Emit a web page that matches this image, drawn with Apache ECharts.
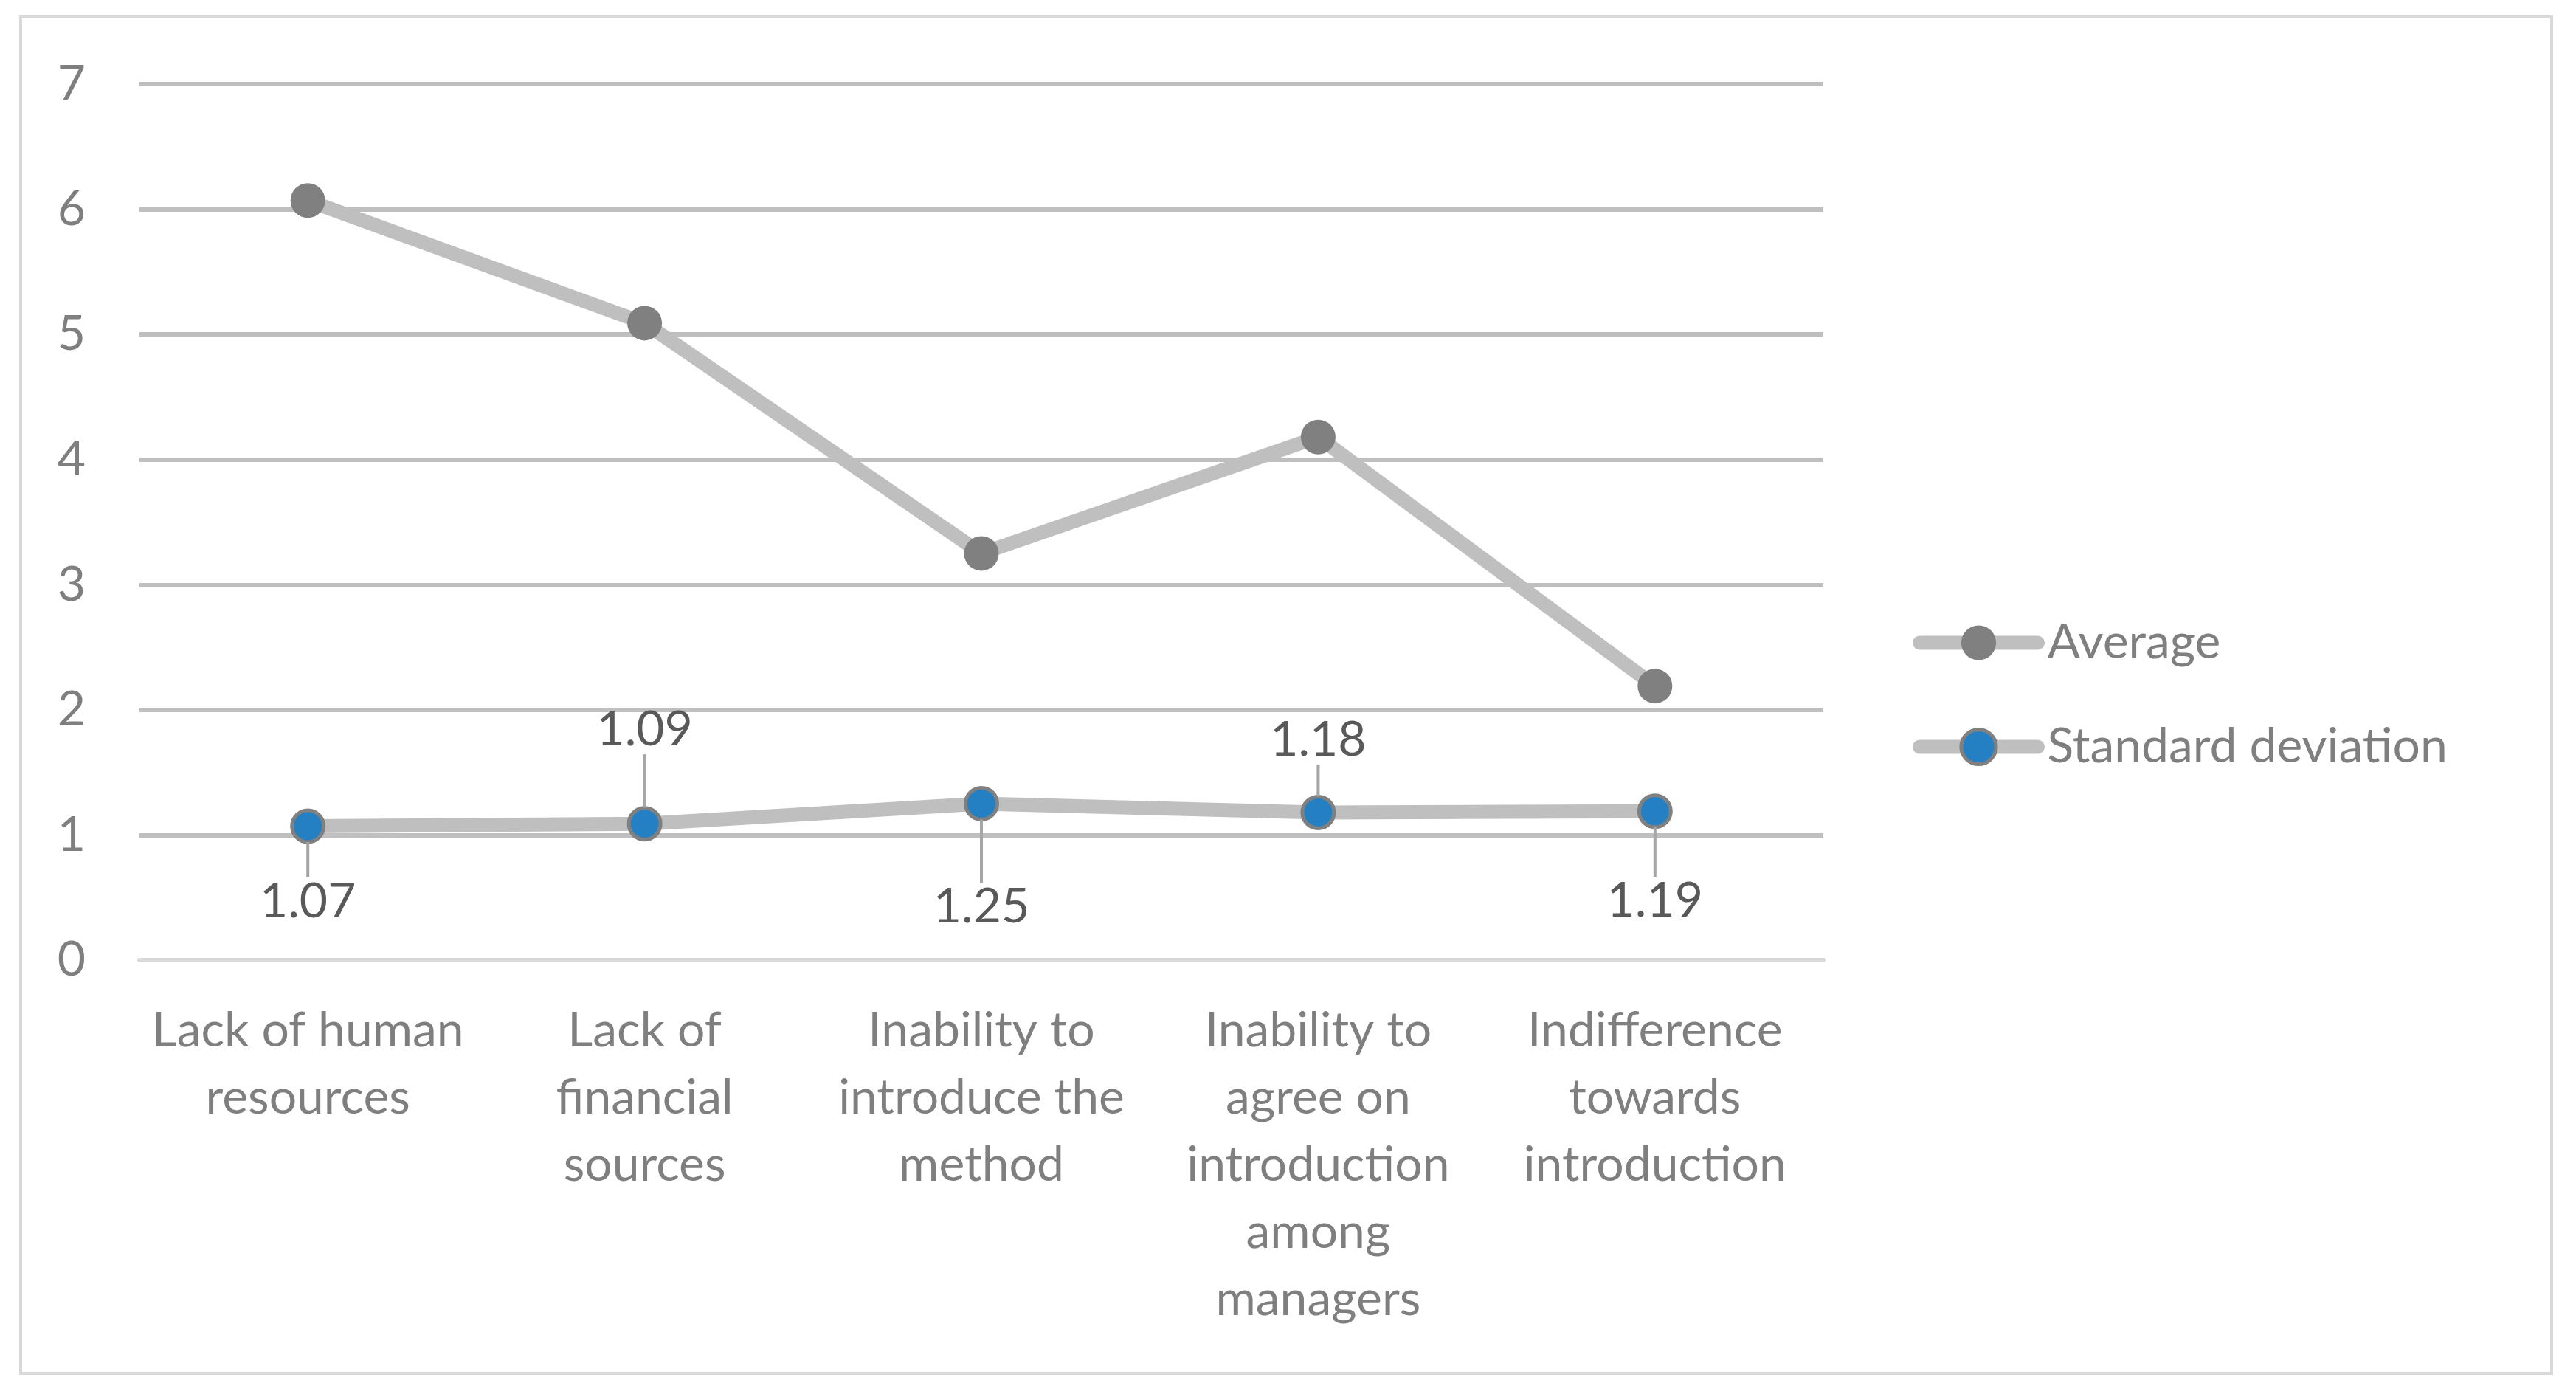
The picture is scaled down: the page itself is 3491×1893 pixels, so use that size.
<!DOCTYPE html>
<html>
<head>
<meta charset="utf-8">
<script src="https://cdn.jsdelivr.net/npm/echarts@6/dist/echarts.min.js"></script>
<style>
html,body{margin:0;padding:0;background:#fff;}
#chart{width:3491px;height:1893px;}
</style>
</head>
<body>
<div id="chart"></div>
<script>
var categories = [
  "Lack of human\nresources",
  "Lack of\nfinancial\nsources",
  "Inability to\nintroduce the\nmethod",
  "Inability to\nagree on\nintroduction\namong\nmanagers",
  "Indifference\ntowards\nintroduction"
];
var averageValues = [6.07, 5.09, 3.25, 4.18, 2.19];
var sdValues = [1.07, 1.09, 1.25, 1.18, 1.19];
var yTicks = [0, 1, 2, 3, 4, 5, 6, 7];

// label placement style (offset of each data label from its point, px)
var labelShift = [102, -127, 140, -98, 122];

var FONT = "Lato, 'Open Sans', sans-serif";
var chart = echarts.init(document.getElementById('chart'));
chart.setOption({
  animation: false,
  backgroundColor: '#ffffff',
  graphic: [{
    type: 'rect',
    shape: {x: 28, y: 23, width: 3430, height: 1838},
    style: {fill: 'none', stroke: '#d9d9d9', lineWidth: 4},
    z: -10
  }],
  grid: {left: 189, right: 1020, top: 114, bottom: 592},
  legend: {
    orient: 'vertical',
    left: 2587,
    top: 833,
    itemWidth: 160,
    itemHeight: 59,
    itemGap: 75,
    lineStyle: {width: 19, cap: 'round', color: '#bfbfbf'},
    textStyle: {fontFamily: FONT, fontSize: 66, color: '#7f7f7f', lineHeight: 60, padding: [0,0,0,8]},
    data: [
      {name: 'Average', itemStyle: {borderWidth: 0}},
      {name: 'Standard deviation', itemStyle: {borderWidth: 5, borderColor: '#808080'}}
    ]
  },
  xAxis: {
    type: 'category',
    data: categories,
    boundaryGap: true,
    axisLine: {show: true, lineStyle: {color: '#d9d9d9', width: 6}},
    axisTick: {show: false},
    axisLabel: {
      interval: 0,
      margin: 50,
      fontFamily: FONT,
      fontSize: 66,
      lineHeight: 91,
      color: '#7f7f7f'
    }
  },
  yAxis: {
    type: 'value',
    min: yTicks[0],
    max: yTicks[yTicks.length - 1],
    interval: 1,
    axisLine: {show: false},
    axisTick: {show: false},
    splitLine: {lineStyle: {color: '#bfbfbf', width: 6}},
    axisLabel: {
      margin: 73,
      fontFamily: FONT,
      fontSize: 66,
      color: '#7f7f7f'
    }
  },
  series: [{
    name: 'Average',
    type: 'line',
    data: averageValues,
    symbol: 'circle',
    symbolSize: 47,
    lineStyle: {color: '#bfbfbf', width: 19},
    itemStyle: {color: '#808080', borderWidth: 0},
    z: 3
  }, {
    name: 'Standard deviation',
    type: 'line',
    data: sdValues,
    symbol: 'circle',
    symbolSize: 43,
    lineStyle: {color: '#bfbfbf', width: 19},
    itemStyle: {color: '#2580c3', borderColor: '#808080', borderWidth: 5},
    label: {
      show: true,
      position: 'inside',
      fontFamily: FONT,
      fontSize: 66,
      color: '#595959',
      formatter: function (p) { return p.value.toFixed(2); }
    },
    labelLine: {show: true, showAbove: true, lineStyle: {color: '#a6a6a6', width: 4}},
    labelLayout: function (p) {
      var dy = labelShift[p.dataIndex];
      var cx = p.rect.x + p.rect.width / 2;
      var cy = p.rect.y + p.rect.height / 2;
      var lr = p.labelRect;
      var endY = dy > 0 ? lr.y + dy + 4 : lr.y + lr.height + dy - 4;
      return {
        dy: dy,
        labelLinePoints: [[cx, cy], [cx, (cy + endY) / 2], [cx, endY]]
      };
    },
    z: 4
  }]
});
</script>
</body>
</html>
